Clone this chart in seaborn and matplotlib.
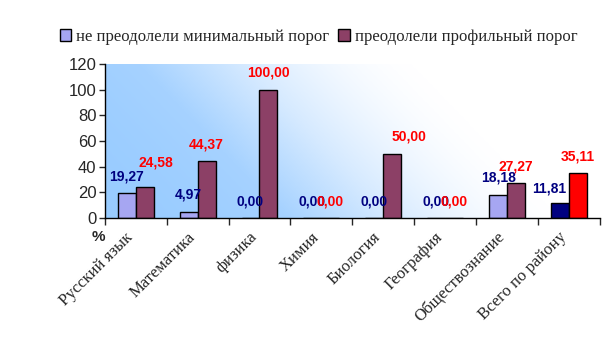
import numpy as np
import pandas as pd
import matplotlib
matplotlib.use("Agg")
import matplotlib.pyplot as plt
import seaborn as sns
from matplotlib.colors import LinearSegmentedColormap

subjects = ["Русский язык", "Математика", "физика", "Химия", "Биология",
            "География", "Обществознание", "Всего по району"]
below_min = [19.27, 4.97, 0.00, 0.00, 0.00, 0.00, 18.18, 11.81]
above_prof = [24.58, 44.37, 100.00, 0.00, 50.00, 0.00, 27.27, 35.11]
series = ["не преодолели минимальный порог", "преодолели профильный порог"]

df = pd.DataFrame({
    "subject": subjects * 2,
    "value": below_min + above_prof,
    "series": [series[0]] * len(subjects) + [series[1]] * len(subjects),
})

sns.set_style("white")
plt.rcParams["font.family"] = ["Liberation Sans", "DejaVu Sans"]

fig = plt.figure(figsize=(6.16, 3.53), dpi=100)
ax = fig.add_axes([0.170, 0.382, 0.804, 0.437])

# gradient background: blue lower-left -> white upper-right
nx, ny = 400, 150
xx, yy = np.meshgrid(np.linspace(0, 1, nx), np.linspace(0, 1, ny))
t = np.clip((xx + 0.3 * yy) / 0.95, 0, 1)
t = t * t * (3 - 2 * t)  # smoothstep
cmap = LinearSegmentedColormap.from_list("bg", ["#99CCFF", "#A6D2FF", "#D6EAFF", "#FFFFFF"])
ax.imshow(t, cmap=cmap, extent=[-0.5, 7.5, 0, 120], origin="lower",
          aspect="auto", zorder=0, interpolation="bilinear")

sns.barplot(data=df, x="subject", y="value", hue="series",
            palette=["#9999FF", "#993366"], width=0.58,
            edgecolor="black", linewidth=1.0, ax=ax, zorder=2)

# last category uses its own colours
n = len(subjects)
ax.patches[n - 1].set_facecolor("#000080")
ax.patches[2 * n - 1].set_facecolor("#FF0000")

# data labels
shift = {(1, 0): (11, 7), (1, 4): (17, 0), (0, 7): (-11, -3)}
for s, vals, col in [(0, below_min, "#000080"), (1, above_prof, "#FF0000")]:
    for i, v in enumerate(vals):
        p = ax.patches[s * n + i]
        cx = p.get_x() + p.get_width() / 2
        dx, dy = shift.get((s, i), (0, 0))
        ax.annotate(f"{v:.2f}".replace(".", ","), (cx, v),
                    xytext=(dx, 17 + dy), textcoords="offset pixels",
                    ha="center", va="center", fontsize=10,
                    fontweight="bold", color=col, zorder=5)

ax.set_xlim(-0.5, 7.5)
ax.set_ylim(0, 120)
ax.set_yticks(range(0, 121, 20))
ax.tick_params(axis="y", labelsize=12, length=4, direction="out", left=True,
               width=1, pad=2)
ax.set_xticks(np.arange(-0.5, 8, 1))
ax.set_xticklabels([])
ax.tick_params(axis="x", length=5, direction="out", bottom=True, width=1)
for i, name in enumerate(subjects):
    ax.text(i - 0.08, -13, name, rotation=45, rotation_mode="anchor",
            ha="right", va="center", fontsize=12,
            family=["Liberation Serif", "DejaVu Serif"])
ax.text(-0.6, -15, "%", ha="center", va="center", fontsize=11,
        fontweight="bold")

ax.set_xlabel("")
ax.set_ylabel("")
for side in ["top", "right"]:
    ax.spines[side].set_visible(False)
for side in ["left", "bottom"]:
    ax.spines[side].set_color("black")
    ax.spines[side].set_linewidth(1)

leg = ax.legend(loc="center", ncol=2, frameon=False, handlelength=0.7,
                handleheight=0.7, handletextpad=0.3, columnspacing=0.5,
                prop={"family": ["Liberation Serif", "DejaVu Serif"], "size": 12})
leg.set_bbox_to_anchor((0.517, 0.895), transform=fig.transFigure)

fig.savefig("out.png", dpi=100)
